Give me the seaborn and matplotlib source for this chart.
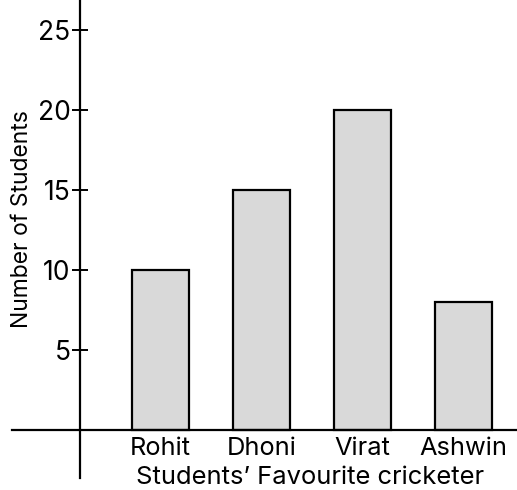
import matplotlib
matplotlib.use("Agg")
import matplotlib.pyplot as plt
import seaborn as sns

categories = ["Rohit", "Dhoni", "Virat", "Ashwin"]
students = [10, 15, 20, 8]
yticks = [5, 10, 15, 20, 25]

sns.set_style("white")
plt.rcParams['font.family'] = ['Inter', 'DejaVu Sans']
plt.rcParams['text.color'] = 'black'
plt.rcParams['axes.labelcolor'] = 'black'

fig = plt.figure(figsize=(5.17, 4.90), dpi=100)
ax = fig.add_axes([0, 0, 1, 1])
sns.barplot(x=categories, y=students, color="#d9d9d9", saturation=1,
            edgecolor="black", linewidth=1.6, width=0.56, ax=ax)

ax.set_xlim(-1.589, 3.53)
ax.set_ylim(-3.75, 26.875)

for s in ["top", "right"]:
    ax.spines[s].set_visible(False)
ax.spines["left"].set_position(("data", -0.797))
ax.spines["left"].set_bounds(-3.0, 26.875)
ax.spines["bottom"].set_position(("data", 0))
ax.spines["bottom"].set_bounds(-1.47, 3.53)
for s in ["left", "bottom"]:
    ax.spines[s].set_linewidth(1.6)
    ax.spines[s].set_color("black")

ax.set_yticks(yticks)
ax.set_yticklabels([str(v) for v in yticks])
ax.tick_params(axis="y", left=True, direction="inout", length=11.5, width=1.4,
               labelsize=19, pad=1, colors="black")
ax.tick_params(axis="x", bottom=False, length=0, labelsize=18.3, pad=5, colors="black")

ax.set_ylabel("Number of Students", fontsize=16.5)
ax.yaxis.set_label_coords(0.042, 0.553)
ax.set_xlabel("Students\u2019 Favourite cricketer", fontsize=18.4)
ax.xaxis.set_label_coords(0.6, 0.025)
ax.xaxis.label.set_va("center")
ax.yaxis.label.set_va("center")

fig.savefig("out.png", dpi=100)
